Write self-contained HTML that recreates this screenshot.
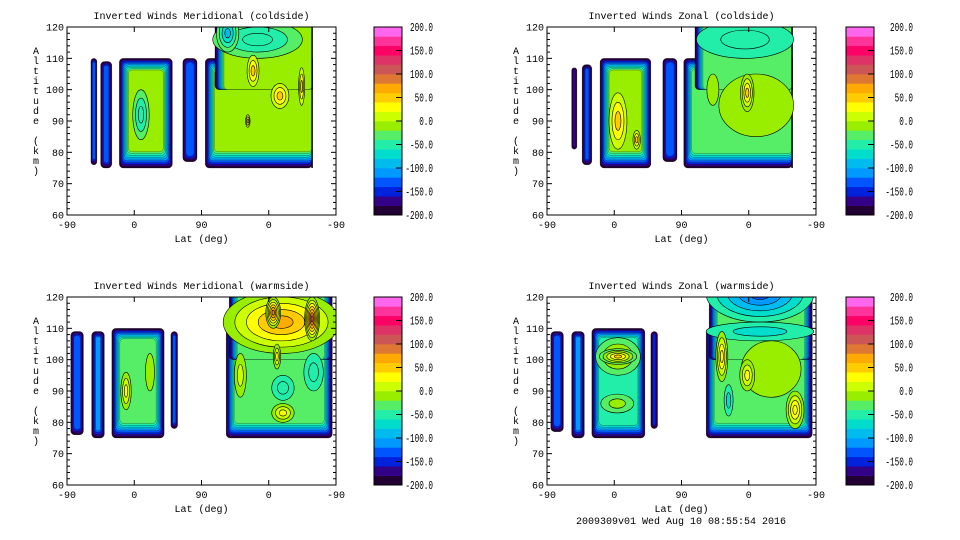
<!DOCTYPE html>
<html><head><meta charset="utf-8"><style>
html,body{margin:0;padding:0;background:#fff;}
svg{display:block;}
text{font-family:"Liberation Mono",monospace;font-size:10px;fill:#000;}
text.cbl{font-size:12px;}
</style></head><body>
<svg id="chart" width="960" height="540" viewBox="0 0 960 540" xmlns="http://www.w3.org/2000/svg"></svg>
<script>
// ---- data ----
const levelColors = ["#220033","#330088","#0022dd","#0055ff","#0099ff","#00bbee","#00ddcc","#22eeaa","#55ee66","#99ee00","#ccff00","#ffff00","#ffcc00","#ffaa00","#dd7733","#cc5555","#dd3366","#ff0066","#ff3399","#ff66ee"];
const cbarLabels = ["200.0","150.0","100.0","50.0","0.0","-50.0","-100.0","-150.0","-200.0"];
const xTickLabels = ["-90","0","90","0","-90"];
const yTickLabels = [120,110,100,90,80,70,60];
const panelTitles = ["Inverted Winds Meridional (coldside)","Inverted Winds Zonal (coldside)","Inverted Winds Meridional (warmside)","Inverted Winds Zonal (warmside)"];
// blobs: [u0,u1,alt0,alt1,value,rimSides]
const tlBlobs = [[32,40,76,110,-140,"lrbt"],[45,60,75,109,-140,"lrbt"],[70,141,75,110,-10,"lrbt"],[155,174,77,110,-130,"lrbt"],[185,328,75,110,-10,"lbt"],[198,328,100,125,-10,"lt"]];
const tlFeatures = [[99,92,11,8,-60],[255,116,60,6,-60],[215,118,15,6,-90],[249,106,8,5,45],[285,98,12,4,45],[314,101,4,6,45],[242,90,3,2,45]];
const trBlobs = [[33,40,81,107,-170,"lrbt"],[47,60,76,108,-140,"lrbt"],[71,139,75,110,-10,"lrbt"],[155,174,77,110,-130,"lrbt"],[183,328,75,110,-30,"lbt"],[198,328,100,125,-30,"lt"]];
const trFeatures = [[95,90,12,9,40],[120,84,5,3,40],[265,116,65,6,-55],[280,95,50,10,-10],[222,100,8,5,-10],[268,99,9,6,40]];
const blBlobs = [[5,22,76,109,-130,"lrbt"],[33,50,75,109,-110,"lrbt"],[60,130,75,110,-30,"lrbt"],[139,148,78,109,-140,"lrbt"],[213,355,75,110,-30,"lrbt"],[217,355,100,125,-30,"lr"]];
const blFeatures = [[79,90,7,6,30],[111,96,6,6,-10],[287,112,78,10,60],[276,115,10,5,90],[328,113,10,7,110],[289,83,15,3,30],[281,101,5,4,20],[330,96,13,6,-60],[289,91,15,4,-55],[232,95,8,7,0]];
const brBlobs = [[5,22,77,109,-140,"lrbt"],[33,50,75,109,-120,"lrbt"],[60,131,75,110,-50,"lrbt"],[139,148,78,109,-150,"lrbt"],[213,355,75,110,-30,"lrbt"],[217,355,100,125,-30,"lr"]];
const brFeatures = [[95,101,30,6,10],[95,101,25,2.5,50],[94,86,22,3,-10],[285,121,72,9,-130],[285,109,72,3,-70],[300,97,40,9,-10],[234,101,8,8,35],[268,95,10,5,30],[332,84,12,6,35],[243,87,6,5,-70]];

// ---- layout ----
const NS = "http://www.w3.org/2000/svg";
const svg = document.getElementById("chart");
const PW = 269, PH = 188;
const panels = [
  {ox:67, oy:27, cb:374, lab:433, blobs:tlBlobs, feats:tlFeatures},
  {ox:547, oy:27, cb:846, lab:913, blobs:trBlobs, feats:trFeatures},
  {ox:67, oy:297, cb:374, lab:433, blobs:blBlobs, feats:blFeatures},
  {ox:547, oy:297, cb:846, lab:913, blobs:brBlobs, feats:brFeatures}
];
function mk(tag, attrs, parent){const e=document.createElementNS(NS,tag);for(const k in attrs)e.setAttribute(k,attrs[k]);(parent||svg).appendChild(e);return e;}
function col(v){let i=Math.floor((v+200)/20);if(i<0)i=0;if(i>19)i=19;return levelColors[i];}

panels.forEach((P,pi)=>{
  const xs = u => P.ox + u*PW/360;
  const ys = a => P.oy + (120-a)*PH/60;
  const g = mk("g",{});
  
  
  const cid = "clip"+pi;
  const cp = mk("clipPath",{id:cid},g);
  mk("rect",{x:P.ox,y:P.oy,width:PW,height:PH},cp);
  const field = mk("g",{"clip-path":"url(#"+cid+")"},g);
  
  
  P.blobs.forEach(b=>{
    const [u0,u1,a0,a1,v,rims]=b;
    let X0=xs(u0),X1=xs(u1),Y0=ys(a1),Y1=ys(a0);
    const n=Math.max(0,Math.floor((v+200)/20));
    const hx=Math.min(1.0,((X1-X0)/2-1.5)/Math.max(n,1));
    const bg = mk("g",{},field);
    
    
    for(let k=0;k<=n;k++){
      const l=rims.includes('l')?X0+k*hx:X0, r=rims.includes('r')?X1-k*hx:X1;
      const t=rims.includes('t')?Y0+k*1.3:Y0, bt=rims.includes('b')?Y1-k*1.8:Y1;
      if(r-l<0.5||bt-t<0.5)break;
      const lev=Math.min(-190+20*k,v);
      mk("rect",{x:l,y:t,width:r-l,height:bt-t,rx:Math.min(4,(r-l)/2),fill:col(k===n?v:lev),stroke:"#000","stroke-width":0.4,"stroke-opacity":0.6},bg);
    }
    if(!rims.includes('r')){mk("line",{x1:X1,y1:Y0,x2:X1,y2:Y1,stroke:"#000","stroke-width":1.5},bg);}
  });
  P.feats.forEach(f=>{
    const [u,a,ru,ra,v]=f;
    let base=-30;
    P.blobs.forEach(b=>{if(u>=b[0]&&u<=b[1]&&a>=b[2]&&a<=b[3])base=b[4];});
    const m=Math.max(1,Math.ceil(Math.abs(v-base)/20));
    const sg=v>=base?1:-1;
    const fg=mk("g",{},field);
    
    
    for(let j=1;j<=m;j++){
      const s=1-(j-1)/m;
      let lev=base+sg*20*j; if(sg>0&&lev>v)lev=v; if(sg<0&&lev<v)lev=v;
      mk("ellipse",{cx:xs(u),cy:ys(a),rx:ru*PW/360*s,ry:ra*PH/60*s,fill:col(lev),stroke:"#000","stroke-width":0.6},fg);
    }
  });
  const ax=mk("rect",{x:P.ox,y:P.oy,width:PW,height:PH,fill:"none",stroke:"#000","stroke-width":1},g);
  
  
  for(let a=60;a<=120;a+=2){
    const L=(a%10===0)?5:3;
    mk("line",{x1:P.ox,y1:ys(a),x2:P.ox+L,y2:ys(a),stroke:"#000","stroke-width":1},g);
    mk("line",{x1:P.ox+PW,y1:ys(a),x2:P.ox+PW-L,y2:ys(a),stroke:"#000","stroke-width":1},g);
  }
  yTickLabels.forEach(a=>{
    const t=mk("text",{x:P.ox-3,y:ys(a)+3.5,"text-anchor":"end"},g);
    t.textContent=a;
    
    
  });
  xTickLabels.forEach((lb,i)=>{
    const u=i*90;
    mk("line",{x1:xs(u),y1:P.oy+PH,x2:xs(u),y2:P.oy+PH-5,stroke:"#000","stroke-width":1},g);
    mk("line",{x1:xs(u),y1:P.oy,x2:xs(u),y2:P.oy+5,stroke:"#000","stroke-width":1},g);
    const t=mk("text",{x:xs(u),y:P.oy+PH+13,"text-anchor":"middle"},g);
    t.textContent=lb;
    
    
  });
  const tt=mk("text",{x:P.ox+PW/2,y:P.oy-8,"text-anchor":"middle"},g);
  tt.textContent=panelTitles[pi];
  
  
  const xl=mk("text",{x:P.ox+PW/2,y:P.oy+PH+27,"text-anchor":"middle"},g);
  xl.textContent="Lat (deg)";
  
  
  const yl=mk("g",{},g);
  
  
  "Altitude (km)".split("").forEach((c,i)=>{
    const t=mk("text",{x:P.ox-31,y:P.oy+27+i*10,"text-anchor":"middle"},yl);
    t.textContent=c;
  });
  const cbg=mk("g",{},g);
  
  
  const bh=PH/20;
  levelColors.forEach((c,i)=>{
    mk("rect",{x:P.cb,y:P.oy+PH-(i+1)*bh,width:28,height:bh+0.3,fill:c},cbg);
  });
  mk("rect",{x:P.cb,y:P.oy,width:28,height:PH,fill:"none",stroke:"#000","stroke-width":1},cbg);
  cbarLabels.forEach((lb,i)=>{
    const yy=P.oy+i*PH/8;
    mk("line",{x1:P.cb+28,y1:yy,x2:P.cb+22,y2:yy,stroke:"#000","stroke-width":1},cbg);
    const w=lb.length*4.6;
    const t=mk("text",{x:P.lab-w,y:yy+4,textLength:w,lengthAdjust:"spacingAndGlyphs","class":"cbl"},cbg);
    t.textContent=lb;
    
    
  });
});
const ft=mk("text",{x:681,y:524,"text-anchor":"middle"});
ft.textContent="2009309v01 Wed Aug 10 08:55:54 2016";


</script>
</body></html>
